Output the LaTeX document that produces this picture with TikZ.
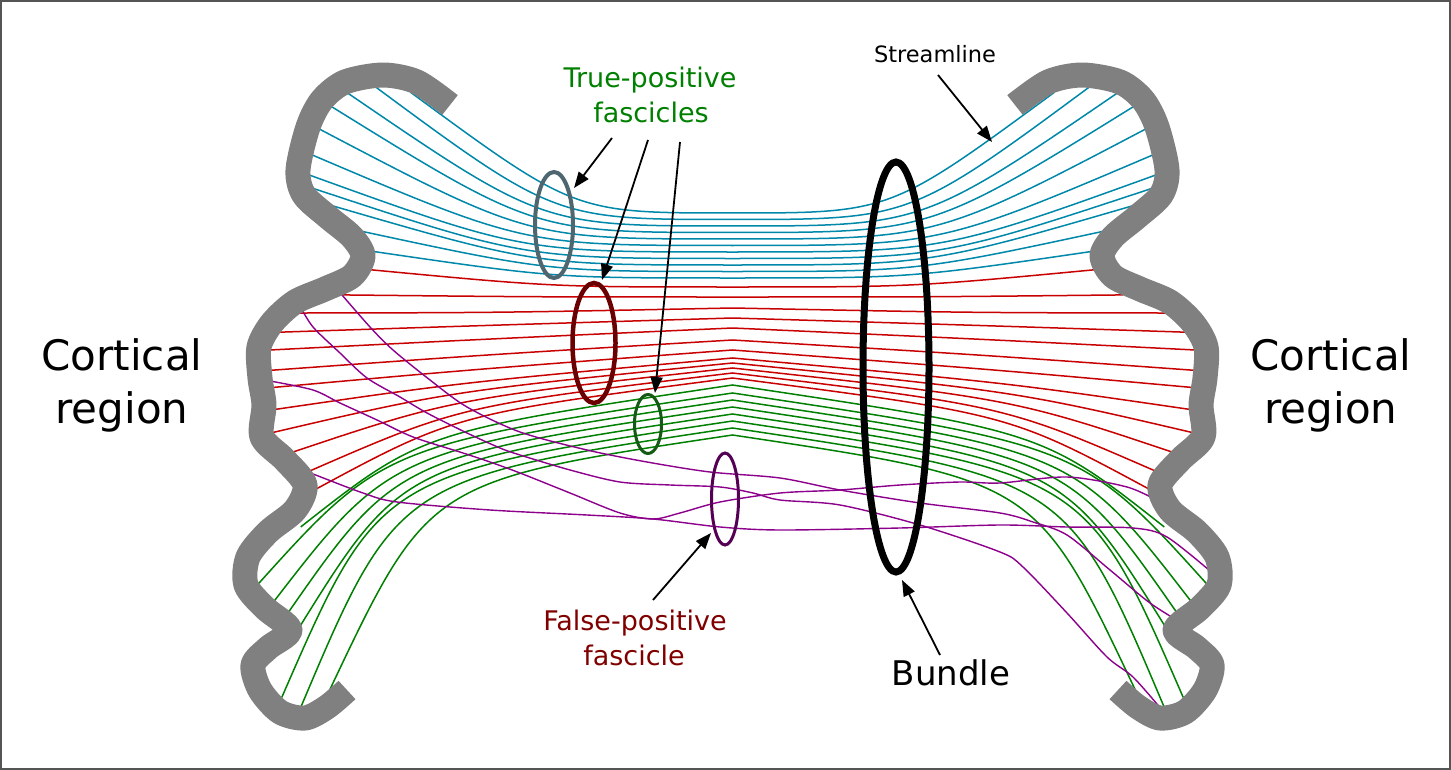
\documentclass[tikz,border=0pt]{standalone}
\usepackage{fontspec}
\setmainfont{DejaVu Sans}
\usetikzlibrary{shapes.geometric,arrows.meta}
\definecolor{cortexgray}{RGB}{128,128,128}
\definecolor{sblue}{RGB}{0,136,170}
\definecolor{sred}{RGB}{200,0,0}
\definecolor{sgreen}{RGB}{0,128,0}
\definecolor{spurple}{RGB}{140,0,140}
\definecolor{eblue}{RGB}{77,102,112}
\definecolor{ered}{RGB}{107,0,0}
\definecolor{egreen}{RGB}{20,90,20}
\definecolor{epurple}{RGB}{85,0,85}
\definecolor{tgreen}{RGB}{0,128,0}
\definecolor{tred}{RGB}{128,0,0}
\definecolor{framegray}{RGB}{85,85,85}
\begin{document}
\begin{tikzpicture}[x=1pt,y=-1pt,
  sline/.style={line width=1.5pt, shorten <=-8pt, shorten >=-8pt},
  pline/.style={spurple, line width=1.4pt},
  cortexline/.style={cortexgray, line width=25pt, line cap=butt, line join=round},
  fell/.style={ellipse, inner sep=0pt, outer sep=0pt},
  arr/.style={draw=black, line width=1.8pt, -{Triangle[length=16pt,width=12pt]}},
  bigtxt/.style={font=\fontsize{42}{50}\selectfont, anchor=base},
  fastxt/.style={font=\fontsize{27}{32}\selectfont, anchor=base}
]
\useasboundingbox (0,0) rectangle (1451,770);
\fill[white] (0,0) rectangle (1451,770);
\draw[framegray, line width=2pt] (1,1) rectangle (1450,769);

% blue streamlines
\foreach \lx/\ly/\my/\f in {417/97/213/0.5, 377/88/219.5/0.5, 352/96/226/0.5, 337/110/232.5/0.5,
  325/132/239/0.5, 317/157/245.5/0.5, 312/176/252/0.5, 318/190/258.5/0.5, 340/208/265/0.5,
  365/232/271.5/0.5, 377/252/278/0.5} {
  \pgfmathsetmacro{\qcx}{\lx+\f*(732.5-\lx)}
  \pgfmathsetmacro{\qrx}{1465-\lx}
  \pgfmathsetmacro{\qrcx}{1465-\qcx}
  \draw[sline, sblue] (\lx,\ly) .. controls (\qcx,\my) .. (732.5,\my) .. controls (\qrcx,\my) .. (\qrx,\ly);
}
% red streamlines
\foreach \lx/\ly/\my/\s/\f in {373/270/287/0/0.5, 350/295/297/0/0.5, 307/313/308/0.02/0.45,
  285/332/318/0.03/0.45, 270/350/328/0.045/0.45, 275/370/340/0.06/0.45, 278/387/350/0.075/0.42,
  278/409/358/0.09/0.4, 275/432/363/0.1/0.38, 293/452/368/0.11/0.36, 312/470/373/0.12/0.35,
  318/488/378/0.13/0.33} {
  \pgfmathsetmacro{\qcx}{\lx+\f*(732.5-\lx)}
  \pgfmathsetmacro{\qcy}{\my+\s*(732.5-\qcx)}
  \pgfmathsetmacro{\qrx}{1465-\lx}
  \pgfmathsetmacro{\qrcx}{1465-\qcx}
  \draw[sline, sred] (\lx,\ly) .. controls (\qcx,\qcy) .. (732.5,\my) .. controls (\qrcx,\qcy) .. (\qrx,\ly);
}
% green streamlines
\foreach \lx/\ly/\my/\s/\f in {307/522/385/0.15/0.27, 260/582/393/0.15/0.26, 275/600/400/0.15/0.25,
  290/610/407/0.15/0.24, 302/623/414/0.15/0.23, 285/690/421/0.15/0.21, 303/702/428/0.15/0.22,
  333/683/435/0.15/0.24} {
  \pgfmathsetmacro{\qcx}{\lx+\f*(732.5-\lx)}
  \pgfmathsetmacro{\qcy}{\my+\s*(732.5-\qcx)}
  \pgfmathsetmacro{\qrx}{1465-\lx}
  \pgfmathsetmacro{\qrcx}{1465-\qcx}
  \draw[sline, sgreen] (\lx,\ly) .. controls (\qcx,\qcy) .. (732.5,\my) .. controls (\qrcx,\qcy) .. (\qrx,\ly);
}

% purple streamlines
\draw[pline] plot[smooth, tension=0.5] coordinates {(336,288) (370,327) (393,350) (430,380) (467,407) (520,432) (587,450) (647,462) (710,472) (780,478) (840,490) (920,503) (1000,513) (1033,522) (1067,535) (1110,570) (1150,603) (1185,625)};
\draw[pline] plot[smooth, tension=0.5] coordinates {(300,306) (313,327) (340,353) (367,378) (400,397) (427,413) (467,433) (500,448) (520,455) (570,470) (620,482) (670,485) (720,487) (753,493) (780,500) (840,505) (920,525) (1000,552) (1023,567) (1067,613) (1107,657) (1133,677) (1162,710)};
\draw[pline] plot[smooth, tension=0.5] coordinates {(270,381) (313,390) (340,403) (377,420) (413,437) (463,453) (490,462) (520,473) (570,493) (620,513) (653,519) (680,513) (720,502) (780,493) (840,490) (900,485) (960,482) (1000,483) (1067,477) (1127,487) (1160,502)};
\draw[pline] plot[smooth, tension=0.5] coordinates {(296,468) (313,474) (363,493) (397,502) (490,510) (587,515) (653,519) (720,527) (780,530) (900,528) (1000,525) (1067,527) (1133,528) (1167,537) (1216,576)};

% cortex
\draw[cortexline] plot[smooth, tension=0.5] coordinates {(450,105) (417,82) (383,75) (345,82) (322,100) (308,127) (298,170) (304,195) (328,217) (352,237) (363,256) (352,276) (325,289) (295,302) (272,323) (259,347) (260,378) (264,405) (262,437) (285,460) (305,485) (295,510) (268,532) (248,557) (246,585) (265,608) (290,630) (268,648) (253,665) (260,690) (280,712) (305,718) (327,707) (347,690)};
\begin{scope}[shift={(1465,0)}, xscale=-1]
\draw[cortexline] plot[smooth, tension=0.5] coordinates {(450,105) (417,82) (383,75) (345,82) (322,100) (308,127) (298,170) (304,195) (328,217) (352,237) (363,256) (352,276) (325,289) (295,302) (272,323) (259,347) (260,378) (264,405) (262,437) (285,460) (305,485) (295,510) (268,532) (248,557) (246,585) (265,608) (290,630) (268,648) (253,665) (260,690) (280,712) (305,718) (327,707) (347,690)};
\end{scope}

% ellipses
\node[fell, draw=eblue, line width=4pt, minimum width=38pt, minimum height=106pt] (eB) at (554,225) {};
\node[fell, draw=ered, line width=4.5pt, minimum width=43pt, minimum height=120pt] (eR) at (594,343) {};
\node[fell, draw=egreen, line width=3pt, minimum width=27pt, minimum height=59pt] (eG) at (648,424) {};
\node[fell, draw=epurple, line width=3pt, minimum width=27pt, minimum height=92pt] (eP) at (725,499) {};
\node[fell, draw=black, line width=7pt, minimum width=66pt, minimum height=410pt] (eBun) at (896,367) {};

% texts
\node[bigtxt] (cl1) at (122,370) {Cortical};
\node[bigtxt] (cl2) at (122,423) {region};
\node[bigtxt] (cr1) at (1331,370) {Cortical};
\node[bigtxt] (cr2) at (1331,423) {region};
\node[fastxt, text=tgreen] (tp1) at (650,88) {True-positive};
\node[fastxt, text=tgreen] (tp2) at (651,123) {fascicles};
\node[fastxt, text=tred] (fp1) at (635,630) {False-positive};
\node[fastxt, text=tred] (fp2) at (634,665) {fascicle};
\node[font=\fontsize{22.5}{27}\selectfont, anchor=base] (sl) at (935,63) {Streamline};
\node[font=\fontsize{34}{40}\selectfont, anchor=base] (bu) at (951,685) {Bundle};

% arrows
\coordinate (s1) at (612,138); \coordinate (t1) at (574,188);
\coordinate (s2) at (648,140); \coordinate (t2) at (602,280);
\coordinate (s3) at (680,142); \coordinate (t3) at (655,393);
\coordinate (s4) at (938,75);  \coordinate (t4) at (992,142);
\coordinate (s5) at (940,655); \coordinate (t5) at (902,580);
\coordinate (s6) at (653,600); \coordinate (t6) at (711,533);
\draw[arr] (s1) -- (t1);
\draw[arr] (s2) -- (t2);
\draw[arr] (s3) -- (t3);
\draw[arr] (s4) -- (t4);
\draw[arr] (s5) -- (t5);
\draw[arr] (s6) -- (t6);
\end{tikzpicture}
\end{document}
